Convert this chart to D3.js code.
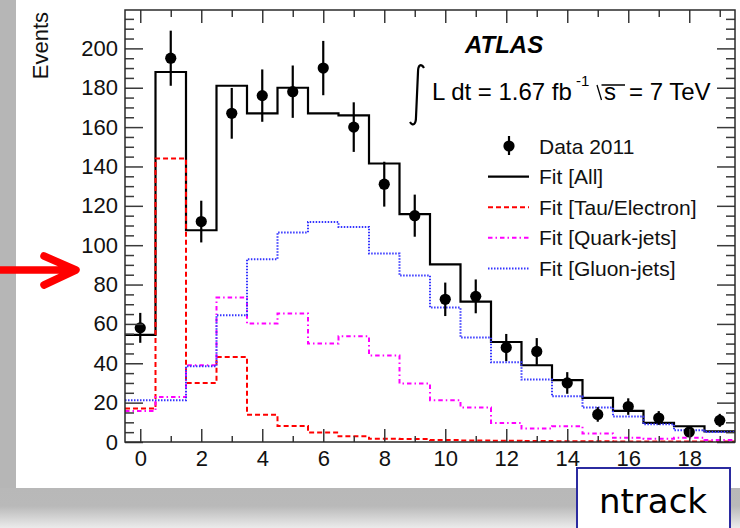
<!DOCTYPE html>
<html>
<head>
<meta charset="utf-8">
<script src="https://cdn.jsdelivr.net/npm/d3@7"></script>
<style>
  html, body { margin: 0; padding: 0; background: #fff; }
  svg { display: block; font-family: "Liberation Sans", Arial, Helvetica, sans-serif; }
</style>
</head>
<body>
<svg id="chart" width="740" height="528"></svg>
<script>
// ntrack bins (one bin per integer track count)
const ntrack = [0, 1, 2, 3, 4, 5, 6, 7, 8, 9, 10, 11, 12, 13, 14, 15, 16, 17, 18, 19];

// Data 2011 (points) and their error bars
const dataCounts = [58, 195, 112, 167, 176, 178, 190, 160, 131, 115, 72.5, 74, 48, 46, 30, 14, 18, 12.2, 5.1, 11];
const dataErrors = [7.6, 14, 10.6, 12.9, 13.3, 13.3, 13.8, 12.6, 11.4, 10.7, 8.5, 8.6, 6.9, 6.8, 5.5, 3.7, 4.2, 3.5, 2.3, 3.3];

// fit templates
const fitAll = [54.4, 188, 107.6, 181, 167, 180, 167, 166, 141.5, 115.8, 90.3, 71.3, 50.8, 39, 31.4, 22.4, 15.8, 9.7, 8, 5.4];
const fitTauElectron = [17, 144, 30, 43.2, 13.9, 8.1, 4.8, 2.9, 1.6, 1.5, 1.0, 0.8, 0.6, 0.5, 0.4, 0.4, 0.3, 0.3, 0.2, 0.2];
const fitQuark = [15.8, 22.9, 39, 73.4, 60.2, 65.3, 50, 53.7, 44, 29.7, 21.2, 17.5, 9.7, 6.8, 8, 4.3, 2.2, 1.7, 2.2, 1.0];
const fitGluon = [21.2, 21.2, 38.5, 64.4, 92.9, 106.5, 111.8, 109.3, 95.8, 84.6, 68.3, 53.1, 40.5, 31.7, 23.2, 17.5, 13, 9, 6, 5.1];

// axis ticks
const xMajorTicks = [0, 2, 4, 6, 8, 10, 12, 14, 16, 18];
const xMinorTicks = [1, 3, 5, 7, 9, 11, 13, 15, 17, 19];
const yMajorTicks = [0, 20, 40, 60, 80, 100, 120, 140, 160, 180, 200];
const yMinorTicks = d3.range(5, 220, 5).filter(v => v % 20 !== 0);

const legendLabels = ['Data 2011', 'Fit [All]', 'Fit [Tau/Electron]', 'Fit [Quark-jets]', 'Fit [Gluon-jets]'];

const svg = d3.select('#chart');

// ---- slide background ----
const defs = svg.append('defs');
const bottomGrad = defs.append('linearGradient').attr('id', 'bottomGrad')
  .attr('x1', 0).attr('y1', 0).attr('x2', 0).attr('y2', 1);
bottomGrad.append('stop').attr('offset', '0%').attr('stop-color', '#b8b8b8');
bottomGrad.append('stop').attr('offset', '45%').attr('stop-color', '#b9b9b9');
bottomGrad.append('stop').attr('offset', '100%').attr('stop-color', '#ebebeb');

svg.append('rect').attr('width', 740).attr('height', 528).attr('fill', '#fff');
svg.append('rect').attr('x', 0).attr('y', 0).attr('width', 16).attr('height', 528).attr('fill', '#b6b6b6');
svg.append('rect').attr('x', 0).attr('y', 488).attr('width', 740).attr('height', 40).attr('fill', 'url(#bottomGrad)');

// ---- plot ----
const frame = { left: 125, top: 10, right: 735, bottom: 442 };
const x = d3.scaleLinear().domain([-0.5, 19.5]).range([frame.left, frame.right]);
const y = d3.scaleLinear().domain([0, 219.5]).range([frame.bottom, frame.top]);

defs.append('clipPath').attr('id', 'plotClip').append('rect')
  .attr('x', frame.left).attr('y', frame.top)
  .attr('width', frame.right - frame.left).attr('height', frame.bottom - frame.top);

const stepLine = d3.line().x(d => x(d[0])).y(d => y(d[1])).curve(d3.curveStepAfter);
function stepPoints(vals) {
  const pts = ntrack.map((n, i) => [n - 0.5, vals[i]]);
  pts.push([ntrack[ntrack.length - 1] + 0.5, vals[vals.length - 1]]);
  return pts;
}

const series = [
  { vals: fitAll, color: '#000', dash: null, width: 2.2 },
  { vals: fitTauElectron, color: '#ff0000', dash: '5 3', width: 2 },
  { vals: fitQuark, color: '#ff00ff', dash: '4.5 3 1.5 3', width: 2 },
  { vals: fitGluon, color: '#3434ff', dash: '1.5 1.5', width: 2 }
];

const plot = svg.append('g').attr('clip-path', 'url(#plotClip)');
plot.selectAll('path.hist')
  .data(series)
  .join('path')
  .attr('class', 'hist')
  .attr('d', d => stepLine(stepPoints(d.vals)))
  .attr('fill', 'none')
  .attr('stroke', d => d.color)
  .attr('stroke-width', d => d.width)
  .attr('stroke-dasharray', d => d.dash);

// data points
const pts = plot.selectAll('g.pt')
  .data(ntrack.map((n, i) => ({ n, v: dataCounts[i], e: dataErrors[i] })))
  .join('g').attr('class', 'pt');
pts.append('line')
  .attr('x1', d => x(d.n)).attr('x2', d => x(d.n))
  .attr('y1', d => y(d.v - d.e)).attr('y2', d => y(d.v + d.e))
  .attr('stroke', '#000').attr('stroke-width', 2.2);
pts.append('circle')
  .attr('cx', d => x(d.n)).attr('cy', d => y(d.v)).attr('r', 5.6).attr('fill', '#000');

// ---- axes ----
function styleAxis(g) {
  g.select('.domain').remove();
  g.selectAll('.tick line').attr('stroke', '#3a3a3a').attr('stroke-width', 1.5);
  g.selectAll('text').attr('fill', '#111').attr('font-size', 22)
    .attr('font-family', '"Liberation Sans", Arial, Helvetica, sans-serif');
}

svg.append('g').attr('transform', `translate(${frame.left},0)`)
  .call(d3.axisLeft(y).tickValues(yMajorTicks).tickSizeInner(-18).tickSizeOuter(0).tickPadding(7))
  .call(styleAxis);
svg.append('g').attr('transform', `translate(${frame.left},0)`)
  .call(d3.axisLeft(y).tickValues(yMinorTicks).tickSizeInner(-9).tickSizeOuter(0).tickFormat(''))
  .call(styleAxis);
svg.append('g').attr('transform', `translate(${frame.right},0)`)
  .call(d3.axisRight(y).tickValues(yMajorTicks).tickSizeInner(-18).tickSizeOuter(0).tickFormat(''))
  .call(styleAxis);
svg.append('g').attr('transform', `translate(${frame.right},0)`)
  .call(d3.axisRight(y).tickValues(yMinorTicks).tickSizeInner(-9).tickSizeOuter(0).tickFormat(''))
  .call(styleAxis);

svg.append('g').attr('transform', `translate(0,${frame.bottom})`)
  .call(d3.axisBottom(x).tickValues(xMajorTicks).tickSizeInner(-13).tickSizeOuter(0).tickPadding(8))
  .call(styleAxis);
svg.append('g').attr('transform', `translate(0,${frame.bottom})`)
  .call(d3.axisBottom(x).tickValues(xMinorTicks).tickSizeInner(-6).tickSizeOuter(0).tickFormat(''))
  .call(styleAxis);
svg.append('g').attr('transform', `translate(0,${frame.top})`)
  .call(d3.axisTop(x).tickValues(xMajorTicks).tickSizeInner(-13).tickSizeOuter(0).tickFormat(''))
  .call(styleAxis);
svg.append('g').attr('transform', `translate(0,${frame.top})`)
  .call(d3.axisTop(x).tickValues(xMinorTicks).tickSizeInner(-7).tickSizeOuter(0).tickFormat(''))
  .call(styleAxis);

// frame
svg.append('rect')
  .attr('x', frame.left).attr('y', frame.top)
  .attr('width', frame.right - frame.left).attr('height', frame.bottom - frame.top)
  .attr('fill', 'none').attr('stroke', '#2a2a2a').attr('stroke-width', 1.5);

// y title
svg.append('text')
  .attr('transform', 'translate(48,12) rotate(-90)')
  .attr('text-anchor', 'end')
  .attr('font-size', 22).attr('fill', '#111')
  .text('Events');

// ---- ATLAS label and luminosity ----
svg.append('text')
  .attr('x', 465).attr('y', 53)
  .attr('font-size', 24).attr('font-weight', 'bold').attr('font-style', 'italic').attr('fill', '#000')
  .text('ATLAS');

svg.append('path')
  .attr('d', 'M424,68 C421,63 418,65 418,72 L416,117 C416,124 413,127 410,122')
  .attr('fill', 'none').attr('stroke', '#000').attr('stroke-width', 2.2);
svg.append('text').attr('x', 432).attr('y', 100).attr('font-size', 24).attr('fill', '#000')
  .text('L dt = 1.67 fb');
svg.append('text').attr('x', 576).attr('y', 86).attr('font-size', 15).attr('fill', '#000')
  .text('-1');
svg.append('path')
  .attr('d', 'M597,85 L601.5,100 M601.5,85 L625,85')
  .attr('fill', 'none').attr('stroke', '#000').attr('stroke-width', 1.3);
svg.append('text').attr('x', 604).attr('y', 100).attr('font-size', 24).attr('fill', '#000').text('s');
svg.append('text').attr('x', 629).attr('y', 100).attr('font-size', 24).attr('fill', '#000').text('= 7 TeV');

// ---- legend ----
const legend = svg.append('g');
const legendY = i => 146 + i * 30.6;
legendLabels.forEach((label, i) => {
  const cy = legendY(i);
  if (i === 0) {
    legend.append('line').attr('x1', 509).attr('x2', 509).attr('y1', cy - 10).attr('y2', cy + 9)
      .attr('stroke', '#000').attr('stroke-width', 2.2);
    legend.append('circle').attr('cx', 509).attr('cy', cy).attr('r', 5.6).attr('fill', '#000');
  } else {
    const s = series[i - 1];
    legend.append('line').attr('x1', 488).attr('x2', 529).attr('y1', cy).attr('y2', cy)
      .attr('stroke', s.color).attr('stroke-width', s.width).attr('stroke-dasharray', s.dash);
  }
  legend.append('text').attr('x', 539).attr('y', cy).attr('dy', '0.36em')
    .attr('font-size', 21).attr('fill', '#111').text(label);
});

// ---- slide annotations ----
svg.append('text').attr('x', -9).attr('y', 230).attr('font-size', 30).attr('fill', '#222').text(')');

svg.append('path')
  .attr('d', 'M0,270 L72,270 M44,256 L76,270 L44,285')
  .attr('fill', 'none').attr('stroke', '#ff0000').attr('stroke-width', 7.5)
  .attr('stroke-linecap', 'round').attr('stroke-linejoin', 'round');

svg.append('rect').attr('x', 577).attr('y', 468).attr('width', 153).attr('height', 70)
  .attr('fill', '#fff').attr('stroke', '#2b2ba0').attr('stroke-width', 2);
svg.append('text').attr('x', 653).attr('y', 513).attr('text-anchor', 'middle')
  .attr('font-family', '"Comic Sans MS", "DejaVu Sans", sans-serif')
  .attr('font-size', 34).attr('fill', '#000').text('ntrack');
</script>
</body>
</html>
